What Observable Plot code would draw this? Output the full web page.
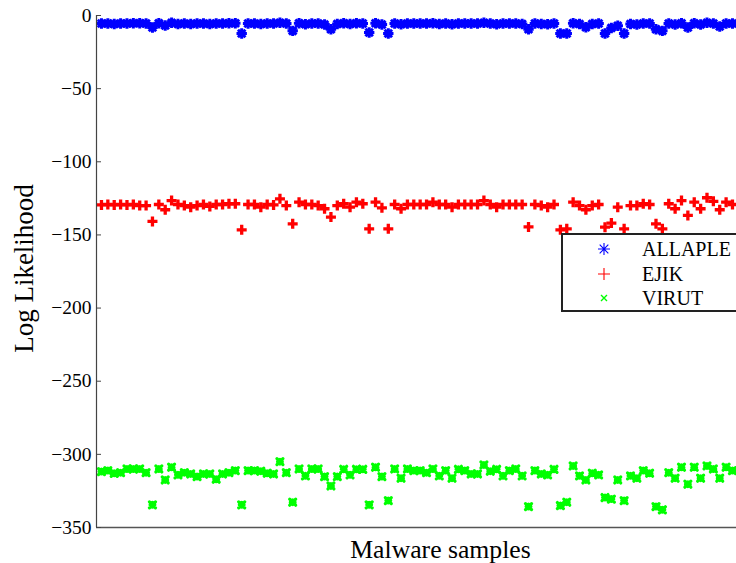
<!DOCTYPE html>
<html><head><meta charset="utf-8">
<script src="https://cdn.jsdelivr.net/npm/d3@7"></script>
<script src="https://cdn.jsdelivr.net/npm/@observablehq/plot@0.6"></script>
<style>
html,body{margin:0;padding:0;background:#fff;}
#wrap{position:relative;width:736px;height:563px;overflow:hidden;background:#fff;}
.lg-box{position:absolute;left:561px;top:233px;width:220px;height:79px;border:2px solid #222;background:#fff;box-sizing:border-box;}
.lg-text{position:absolute;font-family:"Liberation Serif","Times New Roman",serif;font-size:20px;line-height:24px;height:24px;color:#000;white-space:nowrap;}
.lg-mark{position:absolute;}
</style></head><body><div id="wrap"></div>
<script>
// Log likelihood of each malware sample under the three models
const allaple = [-5.5,-5.5,-5.8,-5.5,-5.5,-5.3,-5.3,-5.5,-8.2,-5.3,
  -6.8,-5.0,-5.8,-5.5,-5.8,-5.5,-5.5,-5.8,-5.5,-5.5,
  -5.3,-5.3,-12.3,-5.5,-5.5,-5.8,-5.5,-5.5,-5.0,-5.5,
  -10.5,-5.3,-6.0,-5.5,-5.5,-6.2,-9.4,-5.8,-5.3,-5.8,
  -5.3,-5.5,-11.6,-5.3,-6.2,-12.3,-5.5,-6.0,-5.5,-5.5,
  -5.5,-5.5,-5.3,-5.8,-5.5,-6.0,-5.5,-5.5,-5.5,-5.5,
  -5.0,-5.5,-6.0,-5.5,-5.5,-5.5,-5.8,-9.4,-5.5,-5.8,
  -6.0,-5.5,-12.3,-12.3,-5.3,-5.8,-8.0,-5.8,-5.5,-12.3,
  -8.5,-7.0,-12.3,-5.8,-6.2,-5.5,-5.5,-9.4,-10.5,-5.5,
  -6.2,-5.3,-8.2,-5.3,-6.2,-5.0,-5.5,-7.5,-5.5,-5.5];
const ejik = [-129.5,-129.2,-129.5,-129.2,-129.5,-129.2,-129.9,-129.9,-140.8,-129.2,
  -132.8,-126.5,-129.2,-129.9,-131.0,-129.9,-129.2,-130.5,-129.2,-129.2,
  -128.7,-128.7,-146.5,-129.2,-129.2,-131.0,-129.2,-129.5,-125.3,-129.9,
  -142.4,-127.6,-129.2,-129.2,-129.9,-132.1,-137.8,-129.9,-128.7,-131.0,
  -127.6,-128.7,-145.8,-127.6,-131.5,-145.8,-129.2,-132.1,-129.2,-129.2,
  -129.2,-129.2,-127.6,-129.2,-129.2,-131.0,-129.2,-129.2,-129.2,-129.2,
  -126.5,-129.2,-131.0,-129.2,-129.2,-129.2,-129.2,-144.5,-129.2,-129.9,
  -131.0,-129.2,-146.5,-145.8,-127.6,-129.9,-132.8,-129.9,-129.2,-144.7,
  -141.9,-131.0,-145.8,-129.9,-129.9,-128.7,-129.2,-142.4,-145.8,-128.7,
  -132.1,-126.5,-136.7,-127.6,-132.1,-124.6,-127.0,-132.8,-127.6,-129.2];
const virut = [-311.8,-311.1,-313.0,-312.5,-310.0,-310.0,-310.0,-312.5,-334.5,-310.0,
  -317.5,-308.8,-314.0,-312.5,-313.4,-315.2,-313.4,-313.4,-317.0,-313.4,
  -312.5,-311.1,-334.5,-311.1,-311.1,-311.5,-312.9,-313.4,-305.0,-312.5,
  -332.7,-310.0,-314.7,-310.0,-310.0,-315.2,-321.6,-315.2,-310.2,-314.0,
  -310.2,-310.2,-334.5,-308.8,-315.2,-331.6,-310.0,-316.3,-310.0,-311.1,
  -311.1,-312.5,-310.0,-314.7,-311.1,-316.3,-310.2,-311.1,-313.4,-313.4,
  -307.2,-311.5,-310.2,-314.7,-311.1,-310.0,-314.7,-335.7,-311.1,-313.4,
  -314.0,-310.2,-335.0,-332.7,-307.9,-314.7,-317.5,-312.9,-314.0,-329.5,
  -330.6,-317.5,-331.6,-314.7,-316.3,-311.1,-312.9,-335.7,-337.9,-312.5,
  -316.3,-308.8,-320.4,-308.8,-316.3,-307.9,-310.0,-316.3,-308.8,-311.1];
const seriesNames = ["ALLAPLE", "EJIK", "VIRUT"];
const seriesColors = ["#0000ff", "#ff0000", "#00ff00"];
const yTicks = [0, -50, -100, -150, -200, -250, -300, -350];
const xLabel = "Malware samples";
const yLabel = "Log Likelihood";

// MATLAB-like marker shapes
const symStar = {draw(c, size) {
  const r = Math.sqrt(size / Math.PI), d = r * 0.72;
  c.moveTo(-r, 0); c.lineTo(r, 0);
  c.moveTo(0, -r); c.lineTo(0, r);
  c.moveTo(-d, -d); c.lineTo(d, d);
  c.moveTo(-d, d); c.lineTo(d, -d);
}};
const symPlus = {draw(c, size) {
  const r = Math.sqrt(size / Math.PI);
  c.moveTo(-r, 0); c.lineTo(r, 0);
  c.moveTo(0, -r); c.lineTo(0, r);
}};
const symX = {draw(c, size) {
  const r = Math.sqrt(size / Math.PI);
  c.moveTo(-r, -r); c.lineTo(r, r);
  c.moveTo(-r, r); c.lineTo(r, -r);
}};
// thick x marker as MATLAB renders it with a heavy line width (blob-like)
const symXBold = {draw(c, size) {
  const r = Math.sqrt(size / Math.PI), q = r * 0.8;
  c.moveTo(-r, -r); c.lineTo(r, r);
  c.moveTo(-r, r); c.lineTo(r, -r);
  c.moveTo(-q, 0); c.lineTo(q, 0);
  c.moveTo(0, -q); c.lineTo(0, q);
}};
const seriesSymbols = [symStar, symPlus, symX];

const xDomain = [0.22, 100.63];
const fmt = d => d < 0 ? "\u2212" + Math.abs(d) : String(d);
const serif = '"Liberation Serif", "Times New Roman", serif';

const chart = Plot.plot({
  width: 736, height: 563,
  marginLeft: 96, marginRight: 0, marginTop: 15, marginBottom: 36,
  style: {fontFamily: serif, background: "#fff", color: "#000", overflow: "visible"},
  x: {domain: xDomain, axis: null},
  y: {domain: [-350, 0], axis: null},
  marks: [
    Plot.dot(allaple, {x: (d, i) => i + 1, y: d => d, symbol: symStar, r: 5.2, stroke: seriesColors[0], strokeWidth: 3}),
    Plot.dot(ejik, {x: (d, i) => i + 1, y: d => d, symbol: symPlus, r: 5, stroke: seriesColors[1], strokeWidth: 3.3}),
    Plot.dot(virut, {x: (d, i) => i + 1, y: d => d, symbol: symXBold, r: 3, stroke: seriesColors[2], strokeWidth: 3.2, strokeLinecap: "round"}),
    Plot.ruleY([-350], {stroke: "#555", strokeWidth: 1.5}),
    Plot.ruleX([xDomain[0]], {stroke: "#444", strokeWidth: 1.2}),
    Plot.tickY(yTicks, {y: d => d, insetRight: 635, stroke: "#444"}),
    Plot.axisY(yTicks, {tickSize: 0, tickPadding: 5, tickFormat: fmt, fontSize: 19.5, fontFamily: serif, label: null}),
    Plot.text([xLabel], {text: d => d, frameAnchor: "bottom", textAnchor: "middle", lineAnchor: "middle", dy: 22, dx: 24, fontSize: 25.7}),
    Plot.text([yLabel], {text: d => d, frameAnchor: "left", textAnchor: "middle", lineAnchor: "middle", rotate: -90, dx: -72, dy: -3, fontSize: 27})
  ]
});
const wrap = document.getElementById("wrap");
wrap.appendChild(chart);

// legend (MATLAB style, box cut by the right edge)
const box = document.createElement("div");
box.className = "lg-box";
wrap.appendChild(box);
const legendY = [249, 274, 298];
const legendR = [6, 6, 3];
seriesNames.forEach((name, k) => {
  const s = d3.create("svg").attr("class", "lg-mark").attr("width", 16).attr("height", 16)
    .style("left", (604 - 8) + "px").style("top", (legendY[k] - 8) + "px");
  const p = d3.path();
  seriesSymbols[k].draw(p, Math.PI * legendR[k] * legendR[k]);
  s.append("path").attr("transform", "translate(8,8)").attr("d", p.toString())
    .attr("fill", "none").attr("stroke", seriesColors[k]).attr("stroke-width", k === 2 ? 1.4 : 1.1);
  wrap.appendChild(s.node());
  const t = document.createElement("div");
  t.className = "lg-text";
  t.style.left = "642px";
  t.style.top = (legendY[k] - 12) + "px";
  t.textContent = name;
  wrap.appendChild(t);
});
</script></body></html>
